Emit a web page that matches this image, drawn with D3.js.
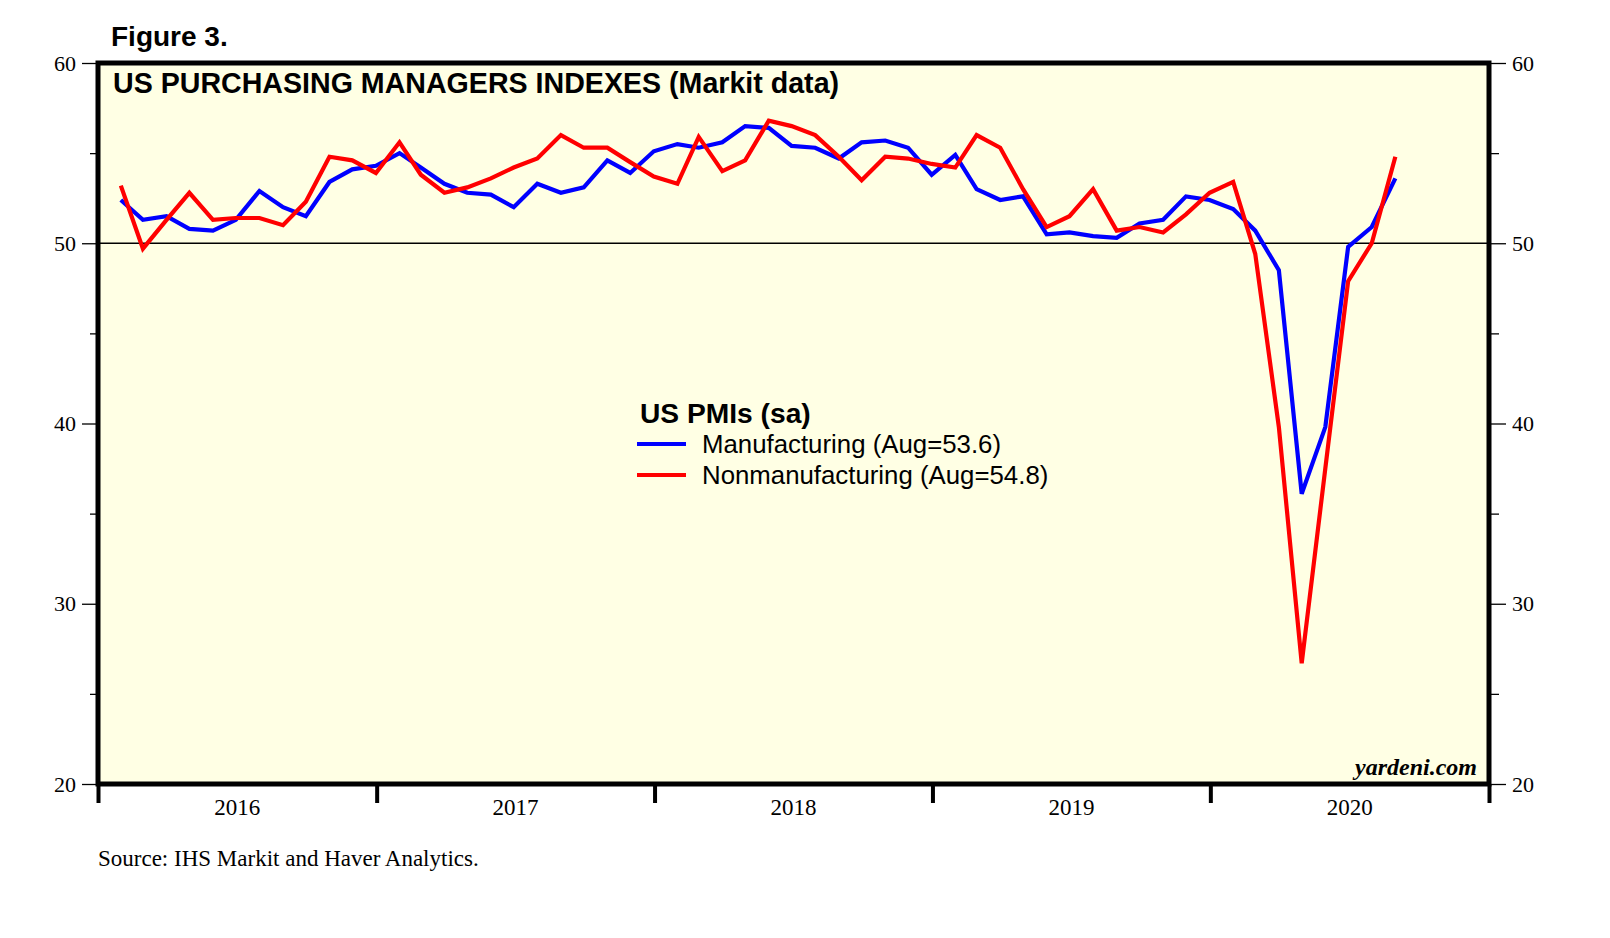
<!DOCTYPE html>
<html>
<head>
<meta charset="utf-8">
<script src="https://cdn.jsdelivr.net/npm/d3@7"></script>
<style>
	body { margin: 0; background: #fff; }
	svg { display: block; }
</style>
</head>
<body>
<div id="chart"></div>
<script>
// monthly readings, Jan 2016 .. Aug 2020
var firstMonth = new Date(2016, 0, 1);
var manufacturing = [
	52.4, 51.3, 51.5, 50.8, 50.7, 51.3, 52.9, 52.0, 51.5, 53.4, 54.1, 54.3,
	55.0, 54.2, 53.3, 52.8, 52.7, 52.0, 53.3, 52.8, 53.1, 54.6, 53.9, 55.1,
	55.5, 55.3, 55.6, 56.5, 56.4, 55.4, 55.3, 54.7, 55.6, 55.7, 55.3, 53.8,
	54.9, 53.0, 52.4, 52.6, 50.5, 50.6, 50.4, 50.3, 51.1, 51.3, 52.6, 52.4,
	51.9, 50.7, 48.5, 36.1, 39.8, 49.8, 50.9, 53.6
];
var nonmanufacturing = [
	53.2, 49.7, 51.3, 52.8, 51.3, 51.4, 51.4, 51.0, 52.3, 54.8, 54.6, 53.9,
	55.6, 53.8, 52.8, 53.1, 53.6, 54.2, 54.7, 56.0, 55.3, 55.3, 54.5, 53.7,
	53.3, 55.9, 54.0, 54.6, 56.8, 56.5, 56.0, 54.8, 53.5, 54.8, 54.7, 54.4,
	54.2, 56.0, 55.3, 53.0, 50.9, 51.5, 53.0, 50.7, 50.9, 50.6, 51.6, 52.8,
	53.4, 49.4, 39.8, 26.7, 37.5, 47.9, 50.0, 54.8
];
var seriesNames = ["Manufacturing (Aug=53.6)", "Nonmanufacturing (Aug=54.8)"];
var seriesColors = ["#0000ff", "#ff0000"];
var years = [2016, 2017, 2018, 2019, 2020];
var yMajor = [20, 30, 40, 50, 60];
var yMinor = [25, 35, 45, 55];

var W = 1610, H = 938;
var box = {left: 98, right: 1489, top: 63, bottom: 784};
var serif = "'Liberation Serif', 'Times New Roman', serif";
var sans = "'Liberation Sans', Arial, sans-serif";

var svg = d3.select("#chart").append("svg")
	.attr("width", W)
	.attr("height", H);

var x = d3.scaleTime()
	.domain([new Date(years[0], 0, 1), new Date(years[years.length - 1] + 1, 0, 1)])
	.range([box.left, box.right]);
var y = d3.scaleLinear()
	.domain([20, 60])
	.range([box.bottom, box.top]);

// each reading sits at the end of its month
function monthEnd(i){
	return new Date(firstMonth.getFullYear(), firstMonth.getMonth() + i + 1, 0);
}

svg.append("rect")
	.attr("x", box.left).attr("y", box.top)
	.attr("width", box.right - box.left)
	.attr("height", box.bottom - box.top)
	.attr("fill", "#ffffe4");

svg.append("line")
	.attr("x1", box.left).attr("x2", box.right)
	.attr("y1", y(50)).attr("y2", y(50))
	.attr("stroke", "#000").attr("stroke-width", 1.5);

var line = d3.line()
	.x(function(d, i){ return x(monthEnd(i)); })
	.y(function(d){ return y(d); });

[manufacturing, nonmanufacturing].forEach(function(s, k){
	svg.append("path")
		.datum(s)
		.attr("d", line)
		.attr("fill", "none")
		.attr("stroke", seriesColors[k])
		.attr("stroke-width", 4.2);
});

svg.append("rect")
	.attr("x", box.left).attr("y", box.top)
	.attr("width", box.right - box.left)
	.attr("height", box.bottom - box.top)
	.attr("fill", "none")
	.attr("stroke", "#000")
	.attr("stroke-width", 5);

// y axes, both sides
function yAxis(g, axis, size, labels){
	g.call(axis(y).tickValues(labels ? yMajor : yMinor).tickSize(size).tickPadding(6)
		.tickFormat(labels ? d3.format("d") : ""));
	g.select(".domain").remove();
	g.selectAll("line").attr("stroke", "#000").attr("stroke-width", 1.3);
	g.selectAll("text")
		.attr("font-family", serif)
		.attr("font-size", 22)
		.attr("fill", "#000");
}
svg.append("g").attr("transform", "translate(" + box.left + ",0)")
	.call(yAxis, d3.axisLeft, 16, true);
svg.append("g").attr("transform", "translate(" + box.left + ",0)")
	.call(yAxis, d3.axisLeft, 8, false);
svg.append("g").attr("transform", "translate(" + box.right + ",0)")
	.call(yAxis, d3.axisRight, 17, true);
svg.append("g").attr("transform", "translate(" + box.right + ",0)")
	.call(yAxis, d3.axisRight, 10, false);

// year separators under the box
var xg = svg.append("g").attr("transform", "translate(0," + box.bottom + ")")
	.call(d3.axisBottom(x).ticks(d3.timeYear.every(1)).tickSize(19).tickFormat(""));
xg.select(".domain").remove();
xg.selectAll("line").attr("stroke", "#000").attr("stroke-width", 4);

svg.append("g").selectAll("text")
	.data(years)
	.enter()
	.append("text")
	.attr("x", function(d){ return (x(new Date(d, 0, 1)) + x(new Date(d + 1, 0, 1))) / 2; })
	.attr("y", 815)
	.attr("text-anchor", "middle")
	.attr("font-family", serif)
	.attr("font-size", 23)
	.text(function(d){ return d; });

// titles and notes
svg.append("text")
	.attr("x", 111).attr("y", 46)
	.attr("font-family", sans)
	.attr("font-weight", "bold")
	.attr("font-size", 28)
	.text("Figure 3.");

svg.append("text")
	.attr("x", 113).attr("y", 93)
	.attr("font-family", sans)
	.attr("font-weight", "bold")
	.attr("font-size", 28.6)
	.text("US PURCHASING MANAGERS INDEXES (Markit data)");

svg.append("text")
	.attr("x", 1477).attr("y", 775)
	.attr("text-anchor", "end")
	.attr("font-family", serif)
	.attr("font-style", "italic")
	.attr("font-weight", "bold")
	.attr("font-size", 24)
	.text("yardeni.com");

svg.append("text")
	.attr("x", 98).attr("y", 866)
	.attr("font-family", serif)
	.attr("font-size", 23)
	.text("Source: IHS Markit and Haver Analytics.");

// legend
var legend = svg.append("g").attr("transform", "translate(637,0)");
legend.append("text")
	.attr("x", 3).attr("y", 423)
	.attr("font-family", sans)
	.attr("font-weight", "bold")
	.attr("font-size", 28.2)
	.text("US PMIs (sa)");

var items = legend.selectAll("g.item")
	.data(seriesNames)
	.enter()
	.append("g")
	.attr("class", "item")
	.attr("transform", function(d, i){ return "translate(0," + (444 + i * 31) + ")"; });
items.append("line")
	.attr("x1", 0).attr("x2", 49)
	.attr("stroke", function(d, i){ return seriesColors[i]; })
	.attr("stroke-width", 4);
items.append("text")
	.attr("x", 65).attr("y", 9)
	.attr("font-family", sans)
	.attr("font-size", 25.8)
	.text(function(d){ return d; });
</script>
</body>
</html>
